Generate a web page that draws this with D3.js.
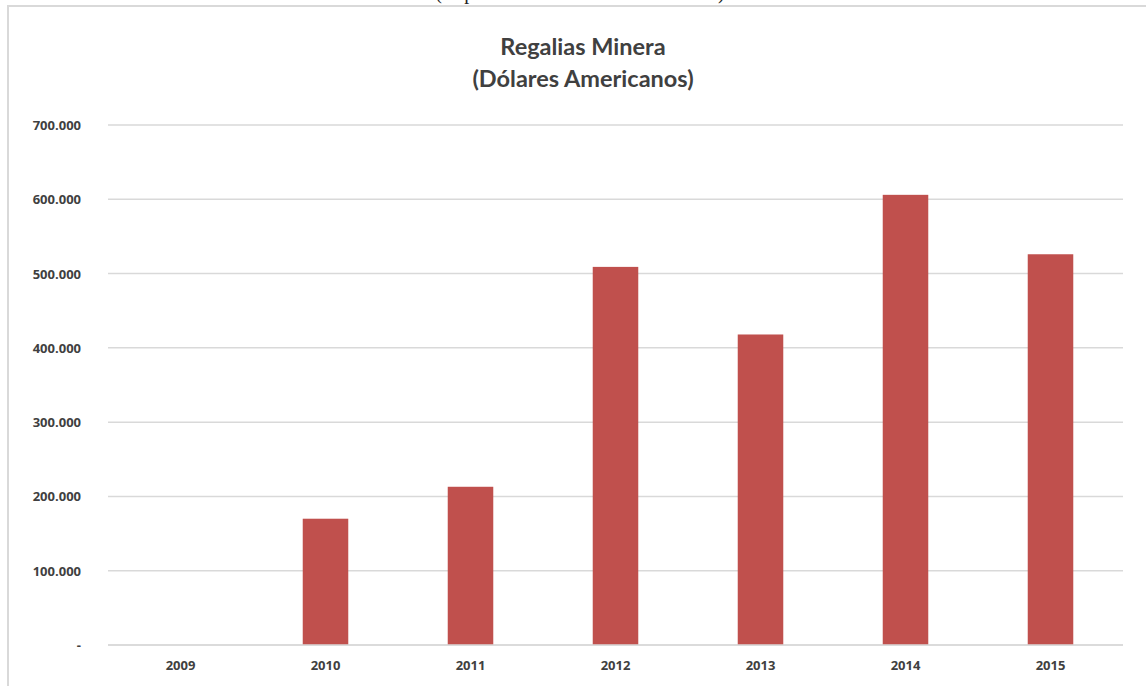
<!DOCTYPE html>
<html>
<head>
<meta charset="utf-8">
<script src="https://cdn.jsdelivr.net/npm/d3@7"></script>
<style>
  body { margin: 0; background: #fff; }
  svg { display: block; }
</style>
</head>
<body>
<div class="grafico"></div>
<script>
// datos del grafico
var anios = ["2009", "2010", "2011", "2012", "2013", "2014", "2015"];
var regalias = [0, 170000, 213000, 509000, 418000, 606000, 526000];
var ticksY = [0, 100000, 200000, 300000, 400000, 500000, 600000, 700000];

var width = 1146;
var height = 686;

var svg = d3.select(".grafico")
  .append("svg")
  .attr("width", width)
  .attr("height", height);

// texto cortado del documento (arriba)
svg.append("text")
  .attr("x", 580)
  .attr("y", -1)
  .attr("text-anchor", "middle")
  .style("font-family", "Liberation Serif")
  .style("font-size", "20px")
  .style("fill", "#222")
  .text("(Expresado en Dólares Americanos)");

// marco del grafico
svg.append("rect")
  .attr("x", 8)
  .attr("y", 6)
  .attr("width", 1160)
  .attr("height", 700)
  .attr("fill", "none")
  .attr("stroke", "#d9d9d9")
  .attr("stroke-width", 2);

// titulo
var titulo = svg.append("text")
  .attr("text-anchor", "middle")
  .style("font-family", "Lato")
  .style("font-weight", "bold")
  .style("font-size", "23.5px")
  .style("fill", "#404040");
titulo.append("tspan").attr("x", 583).attr("y", 55).text("Regalias Minera");
titulo.append("tspan").attr("x", 583).attr("y", 87).text("(Dólares Americanos)");

// escalas
var x = d3.scaleBand()
  .domain(anios)
  .range([108, 1123])
  .paddingInner(0.686)
  .paddingOuter(0.343);

var y = d3.scaleLinear()
  .domain([0, 700000])
  .range([645, 125]);

// lineas de la grilla
svg.append("g")
  .selectAll("line")
  .data(ticksY)
  .enter()
  .append("line")
  .attr("x1", 108)
  .attr("x2", 1123)
  .attr("y1", function(d){ return y(d); })
  .attr("y2", function(d){ return y(d); })
  .attr("stroke", "#d9d9d9")
  .attr("stroke-width", 1.5);

// eje y
var fmt = function(d){
  if (d == 0) return "-";
  return d3.format(",")(d).replace(/,/g, ".");
};
var ejeY = svg.append("g")
  .attr("transform", "translate(81,0)")
  .call(d3.axisLeft(y).tickValues(ticksY).tickFormat(fmt).tickSize(0).tickPadding(0));
ejeY.select(".domain").remove();
ejeY.selectAll("text")
  .attr("dy", "0.35em")
  .style("font-family", "Open Sans")
  .style("font-weight", "bold")
  .style("font-size", "13px")
  .style("fill", "#404040");

// barras
svg.append("g")
  .selectAll("rect")
  .data(regalias)
  .enter()
  .append("rect")
  .attr("x", function(d, i){ return x(anios[i]); })
  .attr("width", x.bandwidth())
  .attr("y", function(d){ return y(d); })
  .attr("height", function(d){ return y(0) - y(d); })
  .attr("fill", "#c0504d");

// linea base
svg.append("line")
  .attr("x1", 108).attr("x2", 1123)
  .attr("y1", y(0)).attr("y2", y(0))
  .attr("stroke", "#d9d9d9")
  .attr("stroke-width", 1.5);

// eje x
var ejeX = svg.append("g")
  .attr("transform", "translate(0," + y(0) + ")")
  .call(d3.axisBottom(x).tickSize(0).tickPadding(16));
ejeX.select(".domain").remove();
ejeX.selectAll("text")
  .style("font-family", "Open Sans")
  .style("font-weight", "bold")
  .style("font-size", "13px")
  .style("fill", "#404040");
</script>
</body>
</html>
